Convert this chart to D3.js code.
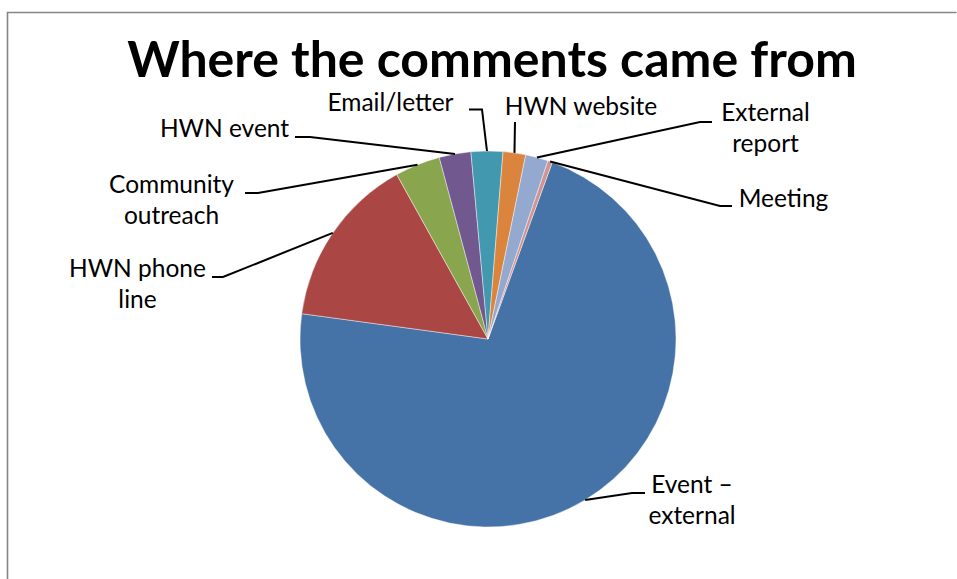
<!DOCTYPE html>
<html>
<head>
<meta charset="utf-8">
<script src="https://cdn.jsdelivr.net/npm/d3@7"></script>
<style>
html,body{margin:0;padding:0;background:#fff;}
svg{display:block;}
</style>
</head>
<body>
<svg id="chart" width="957" height="579"></svg>
<script>
// ---- data ----
const title = "Where the comments came from";
const categories = ["Event \u2013 external","HWN phone line","Community outreach","HWN event","Email/letter","HWN website","External report","Meeting"];
const values = [184, 38, 10, 7, 7, 5, 5, 1];
const colors = ["#4572A7","#AA4643","#89A54E","#71588F","#4198AF","#DB843D","#93A9CF","#D19392"];
// label text lines (same order as categories)
const labelLines = [["Event \u2013","external"],["HWN phone","line"],["Community","outreach"],["HWN event"],["Email/letter"],["HWN website"],["External","report"],["Meeting"]];

// ---- layout (positions of labels and leader-line stubs) ----
const labelLayout = [
  {x:692, y:493, stub:[645,493,632,493]},
  {x:137.5, y:277, stub:[212,277,223,277]},
  {x:171.5, y:193, stub:[245,193,258,193]},
  {x:224.5, y:137, stub:[295,137,310,137]},
  {x:390.5, y:111, stub:[469,109.5,482,109.5]},
  {x:581, y:115, stub:[515,122,515,122]},
  {x:765.5, y:121, stub:[712,122,700,122]},
  {x:783.5, y:207, stub:[732,206,720,206]}
];

const W = 957, H = 579;
const cx = 488, cy = 339, R = 188;
const svg = d3.select("#chart");
const font = "Lato, 'Open Sans', sans-serif";

// frame
svg.append("path")
  .attr("d", `M7.5,${H} L7.5,12.5 L956.5,12.5`)
  .attr("fill","none").attr("stroke","#868686").attr("stroke-width",1.6);

// title
svg.append("text")
  .attr("x", 492).attr("y", 77)
  .attr("text-anchor","middle")
  .attr("font-family", font).attr("font-weight","bold")
  .attr("font-size", 50).attr("fill","#000")
  .text(title);

const toRad = d => d*Math.PI/180;
const pie = d3.pie().sort(null).value(d => d)
  .startAngle(toRad(20)).endAngle(toRad(380));
const arcs = pie(values);
const arc = d3.arc().innerRadius(0).outerRadius(R);

const g = svg.append("g").attr("transform", `translate(${cx},${cy})`);
g.selectAll("path.slice").data(arcs).enter().append("path")
  .attr("class","slice")
  .attr("d", arc)
  .attr("fill", (d,i) => colors[i])
  .attr("stroke", "rgba(255,255,255,0.55)")
  .attr("stroke-width", 0.8)
  .attr("stroke-linejoin","round");

// leader lines
arcs.forEach((d,i) => {
  const a = (d.startAngle + d.endAngle)/2;
  const ex = cx + R*Math.sin(a), ey = cy - R*Math.cos(a);
  const s = labelLayout[i].stub;
  svg.append("path")
    .attr("d", `M${s[0]},${s[1]} L${s[2]},${s[3]} L${ex},${ey}`)
    .attr("fill","none").attr("stroke","#000").attr("stroke-width",2);
});

// labels
categories.forEach((c,i) => {
  const L = labelLayout[i];
  const t = svg.append("text")
    .attr("text-anchor","middle")
    .attr("font-family", font)
    .attr("font-size", 24.5).attr("fill","#000");
  labelLines[i].forEach((ln,j) => {
    t.append("tspan").attr("x", L.x).attr("y", L.y + j*30.5).text(ln);
  });
});
</script>
</body>
</html>
